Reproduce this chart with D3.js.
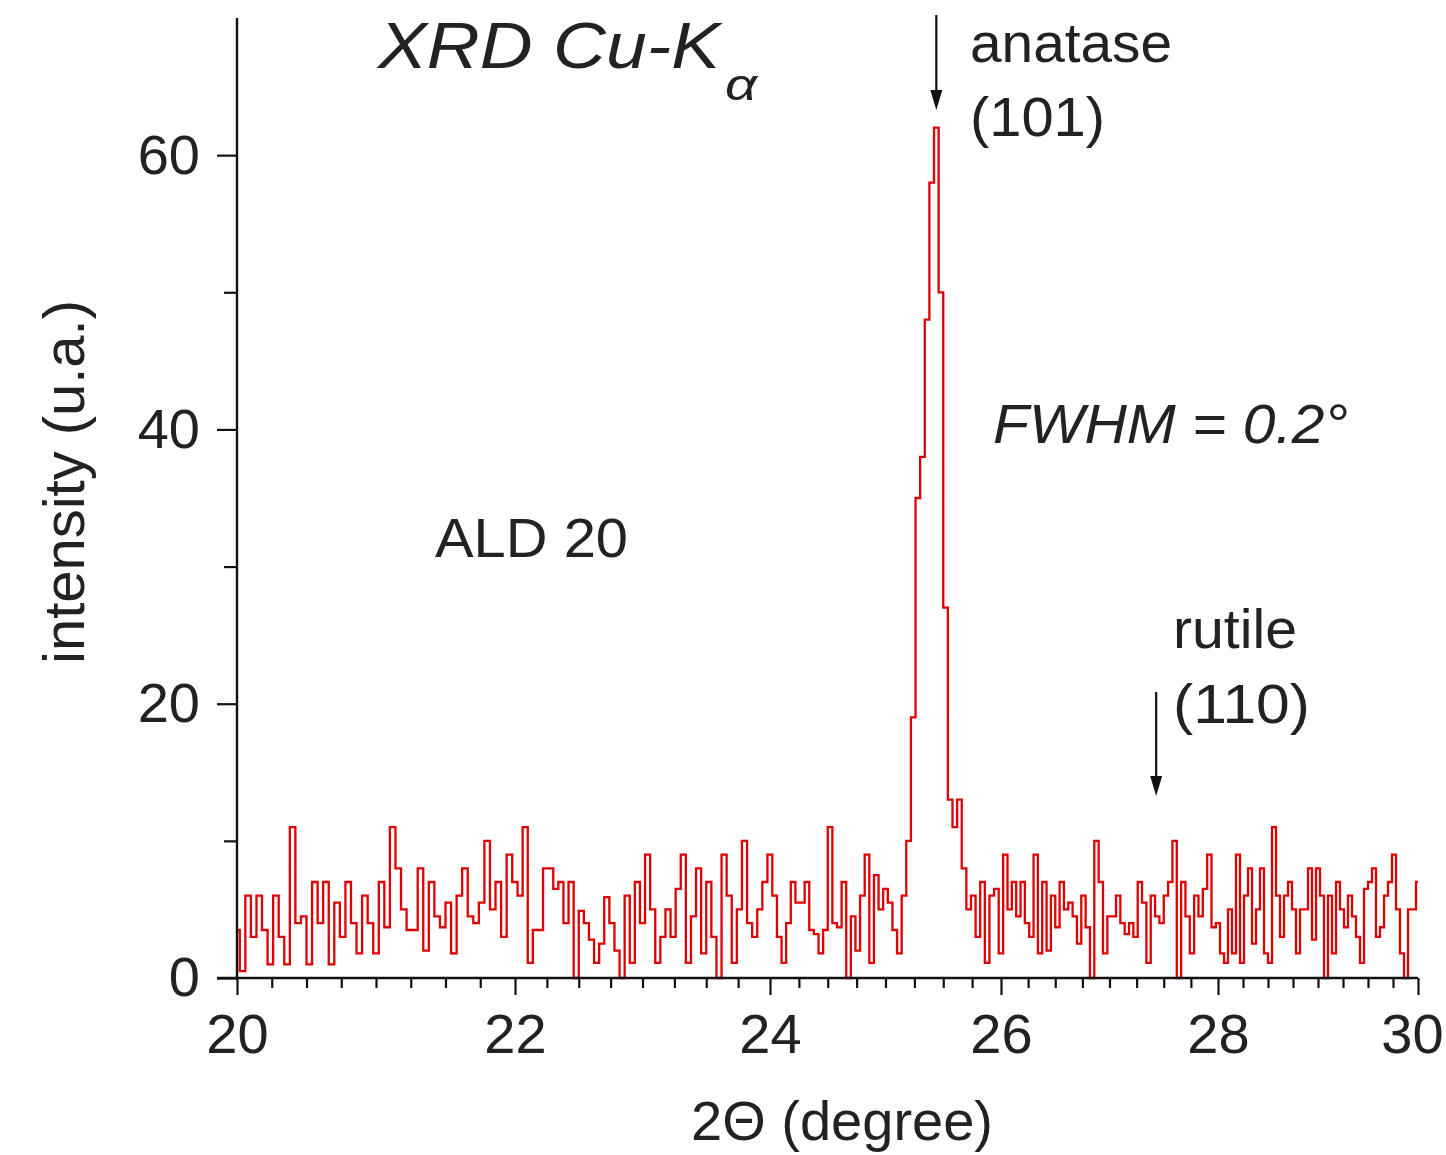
<!DOCTYPE html>
<html>
<head>
<meta charset="utf-8">
<script src="https://cdn.jsdelivr.net/npm/d3@7"></script>
<style>
  html, body { margin: 0; padding: 0; background: #fff; }
  svg { display: block; }
  text { font-family: "Liberation Sans", Arial, sans-serif; fill: #222; }
</style>
</head>
<body>
<svg id="chart" width="1446" height="1155"></svg>
<script>
// ---- data ----
const thetaStart = 20, thetaStep = 0.04;
const intensity = [
  3.5, 0.5, 6, 3, 6, 3.5, 1, 6, 3, 1,
  11, 4, 4.5, 1, 7, 4, 7, 1, 5.5, 3,
  7, 4, 1.8, 6, 4, 1.8, 7, 3.7, 11, 8,
  5, 3.5, 3.5, 8, 2, 7, 4.5, 3.7, 5.5, 1.8,
  6, 8, 4.5, 4, 5.5, 10, 5, 7, 3, 9,
  7, 6, 11, 1.1, 3.5, 3.5, 8, 8, 6.5, 7,
  4, 7, 0, 4.9, 4, 2.8, 1.1, 2.5, 5.9, 4,
  2, 0, 6, 1.1, 7, 4, 9, 5, 1.1, 3,
  5, 3, 6.5, 9, 1.1, 4.5, 8, 1.8, 7, 3,
  0, 9, 6, 1.1, 5, 10, 4, 3, 5, 7,
  9, 6, 3, 1.1, 4, 7, 5.5, 5.5, 7, 3.5,
  3.2, 1.8, 3.5, 11, 4, 3.7, 7, 0, 4.5, 2,
  6, 9, 1.1, 7.5, 5, 6.5, 5.5, 3.5, 1.8, 6,
  10, 19, 35, 38, 48, 58, 62, 50, 27, 13,
  11, 13, 8, 5, 6, 3, 7, 1.1, 6, 6.5,
  1.8, 9, 5, 7, 4.5, 7, 4, 3, 9, 1.8,
  7, 2, 6, 3.7, 7, 5, 5.5, 4.5, 2.5, 6,
  3.7, 0, 10, 7, 1.8, 4.5, 4.5, 6, 4, 3.2,
  4, 3, 7, 5.5, 1.1, 6, 4.5, 4, 6, 7,
  10, 0, 7, 4.5, 1.8, 6, 4.5, 6.5, 9, 3.7,
  4, 1.8, 1.1, 5, 1.8, 9, 1.1, 6, 8, 2.5,
  5, 8, 1.8, 1.1, 11, 6, 3, 6, 7, 5,
  1.8, 5, 5, 8, 2.8, 8, 6, 0, 6, 1.8,
  7, 5, 3.7, 6, 4.5, 3, 1.1, 6.5, 7, 8,
  3, 3.7, 6, 7, 9, 5, 1.8, 0, 5, 5,
  7
];
const xMajorTicks = [20, 22, 24, 26, 28, 30];
const yMajorTicks = [0, 20, 40, 60];
const yMinorTicks = [10, 30, 50];

// ---- scales ----
const x = d3.scaleLinear()
  .domain([20, 22, 24, 26, 28, 30])
  .range([237, 515, 770, 1001, 1218, 1418]);
const y = d3.scaleLinear().domain([0, 70]).range([978, 18]);

const svg = d3.select("#chart");
const points = intensity.map((v, i) => [thetaStart + i * thetaStep, v]);

// ---- data line ----
svg.append("path")
  .datum(points)
  .attr("fill", "none")
  .attr("stroke", "#e00000")
  .attr("stroke-width", 2.3)
  .attr("stroke-linejoin", "miter")
  .attr("d", d3.line().x(d => x(d[0])).y(d => y(d[1])).curve(d3.curveStep));

// ---- axes ----
const xMinor = d3.range(20, 30.001, 0.25).filter(v => Math.abs(v / 2 - Math.round(v / 2)) > 1e-6);
const gxMinor = svg.append("g").attr("transform", `translate(0,${y(0)})`)
  .call(d3.axisBottom(x).tickValues(xMinor).tickSize(10).tickFormat(""));
const gx = svg.append("g").attr("transform", `translate(0,${y(0)})`)
  .call(d3.axisBottom(x).tickValues(xMajorTicks).tickSize(17).tickPadding(18).tickFormat(d3.format("d")));
const gyMinor = svg.append("g").attr("transform", `translate(${x(20)},0)`)
  .call(d3.axisLeft(y).tickValues(yMinorTicks).tickSize(13).tickFormat(""));
const gy = svg.append("g").attr("transform", `translate(${x(20)},0)`)
  .call(d3.axisLeft(y).tickValues(yMajorTicks).tickSize(20).tickPadding(17).tickFormat(d3.format("d")));

[gxMinor, gx, gyMinor, gy].forEach(g => {
  g.select(".domain").remove();
  g.selectAll(".tick line").attr("stroke", "#111").attr("stroke-width", 2.2);
  g.selectAll("text").attr("font-size", 56).attr("fill", "#222")
    .style("font-family", '"Liberation Sans", Arial, sans-serif');
});
// keep the last x label inside the picture
gx.selectAll(".tick text").filter(d => d === 30).attr("dx", -6);

// axis lines
svg.append("line").attr("x1", 217).attr("x2", x(30)).attr("y1", y(0)).attr("y2", y(0))
  .attr("stroke", "#111").attr("stroke-width", 2.4);
svg.append("line").attr("x1", x(20)).attr("x2", x(20)).attr("y1", y(70)).attr("y2", y(0))
  .attr("stroke", "#111").attr("stroke-width", 2.4);

// ---- axis titles ----
svg.append("text").attr("x", 842).attr("y", 1140).attr("text-anchor", "middle")
  .attr("font-size", 56).text("2Θ (degree)");
svg.append("text").attr("transform", "translate(84,482) rotate(-90)")
  .attr("text-anchor", "middle").attr("font-size", 57)
  .attr("textLength", 364).attr("lengthAdjust", "spacingAndGlyphs")
  .text("intensity (u.a.)");

// ---- annotations ----
function label(txt, lx, ly, size, len, italic) {
  svg.append("text").attr("x", lx).attr("y", ly).attr("font-size", size)
    .attr("font-style", italic ? "italic" : "normal")
    .attr("textLength", len).attr("lengthAdjust", "spacingAndGlyphs")
    .text(txt);
}
label("XRD Cu-K", 378, 68, 64, 342, true);
label("α", 725, 100, 44, 32, true);
label("ALD 20", 435, 557, 56, 193, false);
label("FWHM = 0.2°", 993, 443, 55, 355, true);
label("anatase", 970, 62, 55, 202, false);
label("(101)", 970, 136, 55, 135, false);
label("rutile", 1173, 648, 55, 124, false);
label("(110)", 1173, 723, 55, 137, false);

// arrows
function arrow(xv, y1, y2) {
  const px = x(xv);
  svg.append("line").attr("x1", px).attr("x2", px).attr("y1", y1).attr("y2", y2 - 14)
    .attr("stroke", "#111").attr("stroke-width", 2.2);
  svg.append("path")
    .attr("d", `M${px - 6},${y2 - 20} L${px + 6},${y2 - 20} L${px},${y2} Z`)
    .attr("fill", "#111");
}
arrow(25.44, 15, 110);
arrow(27.43, 692, 796);
</script>
</body>
</html>
